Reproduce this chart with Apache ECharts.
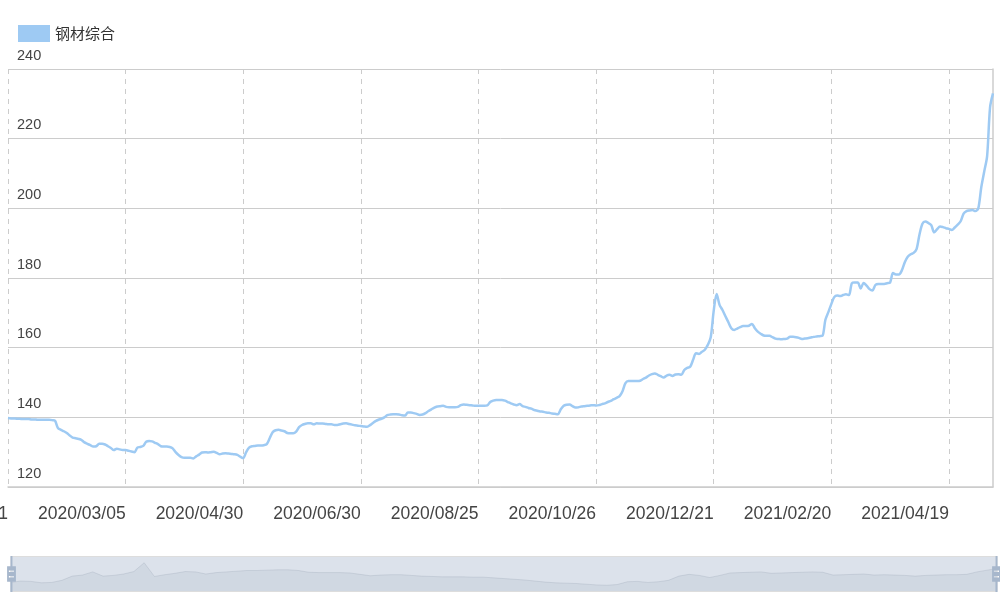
<!DOCTYPE html>
<html>
<head>
<meta charset="utf-8">
<script src="https://cdn.jsdelivr.net/npm/echarts@6/dist/echarts.min.js"></script>
<style>
html,body{margin:0;padding:0;background:#fff;}
#chart{width:1000px;height:602px;}
</style>
</head>
<body>
<div id="chart"></div>
<script>
// ---- data ----
const seriesName = '钢材综合';

const dates = [
'2019/12/31',
'2020/01/02','2020/01/03','2020/01/06','2020/01/07','2020/01/08','2020/01/09','2020/01/10','2020/01/13','2020/01/14','2020/01/15','2020/01/16','2020/01/17','2020/01/20','2020/01/21','2020/01/22','2020/01/23',
'2020/02/03','2020/02/04','2020/02/05','2020/02/06','2020/02/07','2020/02/10','2020/02/11','2020/02/12','2020/02/13','2020/02/14','2020/02/17','2020/02/18','2020/02/19','2020/02/20','2020/02/21','2020/02/24','2020/02/25','2020/02/26','2020/02/27','2020/02/28',
'2020/03/02','2020/03/03','2020/03/04','2020/03/05','2020/03/06','2020/03/09','2020/03/10','2020/03/11','2020/03/12','2020/03/13','2020/03/16','2020/03/17','2020/03/18','2020/03/19','2020/03/20','2020/03/23','2020/03/24','2020/03/25','2020/03/26','2020/03/27','2020/03/30','2020/03/31',
'2020/04/01','2020/04/02','2020/04/03','2020/04/07','2020/04/08','2020/04/09','2020/04/10','2020/04/13','2020/04/14','2020/04/15','2020/04/16','2020/04/17','2020/04/20','2020/04/21','2020/04/22','2020/04/23','2020/04/24','2020/04/26','2020/04/27','2020/04/28','2020/04/29','2020/04/30',
'2020/05/06','2020/05/07','2020/05/08','2020/05/09','2020/05/11','2020/05/12','2020/05/13','2020/05/14','2020/05/15','2020/05/18','2020/05/19','2020/05/20','2020/05/21','2020/05/22','2020/05/25','2020/05/26','2020/05/27','2020/05/28','2020/05/29',
'2020/06/01','2020/06/02','2020/06/03','2020/06/04','2020/06/05','2020/06/08','2020/06/09','2020/06/10','2020/06/11','2020/06/12','2020/06/15','2020/06/16','2020/06/17','2020/06/18','2020/06/19','2020/06/22','2020/06/23','2020/06/24','2020/06/28','2020/06/29','2020/06/30',
'2020/07/01','2020/07/02','2020/07/03','2020/07/06','2020/07/07','2020/07/08','2020/07/09','2020/07/10','2020/07/13','2020/07/14','2020/07/15','2020/07/16','2020/07/17','2020/07/20','2020/07/21','2020/07/22','2020/07/23','2020/07/24','2020/07/27','2020/07/28','2020/07/29','2020/07/30','2020/07/31',
'2020/08/03','2020/08/04','2020/08/05','2020/08/06','2020/08/07','2020/08/10','2020/08/11','2020/08/12','2020/08/13','2020/08/14','2020/08/17','2020/08/18','2020/08/19','2020/08/20','2020/08/21','2020/08/24','2020/08/25','2020/08/26','2020/08/27','2020/08/28','2020/08/31',
'2020/09/01','2020/09/02','2020/09/03','2020/09/04','2020/09/07','2020/09/08','2020/09/09','2020/09/10','2020/09/11','2020/09/14','2020/09/15','2020/09/16','2020/09/17','2020/09/18','2020/09/21','2020/09/22','2020/09/23','2020/09/24','2020/09/25','2020/09/27','2020/09/28','2020/09/29','2020/09/30',
'2020/10/09','2020/10/10','2020/10/12','2020/10/13','2020/10/14','2020/10/15','2020/10/16','2020/10/19','2020/10/20','2020/10/21','2020/10/22','2020/10/23','2020/10/26','2020/10/27','2020/10/28','2020/10/29','2020/10/30',
'2020/11/02','2020/11/03','2020/11/04','2020/11/05','2020/11/06','2020/11/09','2020/11/10','2020/11/11','2020/11/12','2020/11/13','2020/11/16','2020/11/17','2020/11/18','2020/11/19','2020/11/20','2020/11/23','2020/11/24','2020/11/25','2020/11/26','2020/11/27','2020/11/30',
'2020/12/01','2020/12/02','2020/12/03','2020/12/04','2020/12/07','2020/12/08','2020/12/09','2020/12/10','2020/12/11','2020/12/14','2020/12/15','2020/12/16','2020/12/17','2020/12/18','2020/12/21','2020/12/22','2020/12/23','2020/12/24','2020/12/25','2020/12/28','2020/12/29','2020/12/30','2020/12/31',
'2021/01/04','2021/01/05','2021/01/06','2021/01/07','2021/01/08','2021/01/11','2021/01/12','2021/01/13','2021/01/14','2021/01/15','2021/01/18','2021/01/19','2021/01/20','2021/01/21','2021/01/22','2021/01/25','2021/01/26','2021/01/27','2021/01/28','2021/01/29',
'2021/02/01','2021/02/02','2021/02/03','2021/02/04','2021/02/05','2021/02/07','2021/02/08','2021/02/09','2021/02/10','2021/02/18','2021/02/19','2021/02/20','2021/02/22','2021/02/23','2021/02/24','2021/02/25','2021/02/26',
'2021/03/01','2021/03/02','2021/03/03','2021/03/04','2021/03/05','2021/03/08','2021/03/09','2021/03/10','2021/03/11','2021/03/12','2021/03/15','2021/03/16','2021/03/17','2021/03/18','2021/03/19','2021/03/22','2021/03/23','2021/03/24','2021/03/25','2021/03/26','2021/03/29','2021/03/30','2021/03/31',
'2021/04/01','2021/04/02','2021/04/06','2021/04/07','2021/04/08','2021/04/09','2021/04/12','2021/04/13','2021/04/14','2021/04/15','2021/04/16','2021/04/19','2021/04/20','2021/04/21','2021/04/22','2021/04/23','2021/04/25','2021/04/26','2021/04/27','2021/04/28','2021/04/29','2021/04/30',
'2021/05/06','2021/05/07','2021/05/08','2021/05/10','2021/05/11'
];

const steelIndex = [
139.8,139.7,139.7,139.6,139.6,139.5,139.5,139.5,139.4,139.4,139.3,139.3,139.3,139.3,139.3,139.2,139.0,
136.9,136.4,136.0,135.5,134.8,134.2,134.0,133.8,133.5,132.8,132.4,132.0,131.6,131.7,132.4,132.4,132.2,131.7,131.2,130.6,131.0,130.8,130.6,130.6,
130.4,130.2,130.0,131.3,131.5,131.8,133.0,133.2,133.1,132.7,132.3,131.7,131.6,131.6,131.5,131.1,130.0,129.2,128.6,128.4,
128.4,128.4,128.2,128.8,129.3,129.9,130.0,129.9,130.0,130.1,129.8,129.4,129.6,129.7,129.6,129.5,129.4,129.2,128.7,128.3,
130.0,131.3,131.7,131.8,131.9,131.9,132.0,132.3,134.0,135.7,136.3,136.4,136.2,136.0,135.5,135.4,135.4,135.9,137.2,137.8,
138.1,138.3,138.3,138.0,138.3,138.2,138.2,138.1,138.0,138.0,137.8,137.8,138.0,138.2,138.3,138.1,137.9,137.7,137.6,137.5,
137.4,137.3,137.7,138.3,138.9,139.3,139.6,140.0,140.6,140.8,140.9,140.9,140.8,140.6,140.5,141.4,141.4,141.2,141.0,140.7,
140.8,141.2,141.8,142.3,142.8,143.1,143.2,143.3,143.0,142.9,142.9,142.9,143.0,143.5,143.7,143.6,143.5,143.4,143.3,143.3,
143.3,143.3,143.4,144.4,144.8,145.0,145.0,145.0,144.8,144.4,144.0,143.7,143.5,143.8,143.2,143.0,142.7,142.5,142.1,141.9,
141.7,141.6,141.4,141.3,141.1,141.0,140.9,142.3,143.3,143.6,143.7,143.2,142.8,142.9,143.1,143.2,143.3,143.4,143.5,143.4,
143.5,143.8,144.0,144.4,144.7,145.2,145.6,146.1,147.5,149.8,150.4,150.4,150.4,150.4,150.5,151.0,151.4,152.0,152.4,152.6,
152.2,151.8,151.4,152.0,152.2,151.9,152.3,152.4,152.2,153.6,154.2,154.5,156.5,158.4,158.2,158.8,159.4,160.8,163.0,170.5,
175.4,172.3,170.8,169.0,167.3,165.6,165.1,165.5,165.9,166.2,166.2,166.3,166.8,165.6,164.6,164.0,163.5,163.4,163.4,163.0,
162.6,162.5,162.4,162.5,162.6,163.1,163.1,163.0,162.8,162.5,162.6,162.7,162.9,163.1,163.2,163.3,163.4,168.0,170.2,172.5,
174.5,175.0,174.8,175.1,175.3,175.1,178.5,178.7,178.7,177.0,178.6,177.8,176.8,176.4,178.0,178.3,178.3,178.3,178.5,178.7,
181.4,181.0,181.0,182.2,184.5,186.1,186.8,187.2,188.3,192.5,195.6,196.2,195.8,195.2,193.1,194.0,194.8,194.6,194.3,194.1,
193.8,194.5,195.3,196.3,198.5,199.2,199.4,199.5,199.2,200.0,206.0,210.5,215.0,229.0,233.0
];

// profile shown in the slider's data shadow of the reference
const sliderShadow = [
30,34,33,29,30,36,48,51,60,48,50,54,61,86,47,52,56,61,60,54,
58,60,62,64,64,65,66,66,64,59,58,58,58,57,53,49,51,52,52,50,
48,47,46,46,46,45,45,43,41,39,37,34,31,29,28,27,25,23,22,24,
32,33,30,32,36,48,53,50,44,50,57,58,59,60,56,57,58,59,60,59,
51,52,53,54,51,52,51,50,48,50,51,52,52,53,60,65,70
];

const yMin = 120, yMax = 240, yStep = 20;
const labelEvery = 40;

// ---- chart ----
const chart = echarts.init(document.getElementById('chart'), null, {renderer: 'canvas'});
const fontLatin = '"Liberation Sans", "Noto Sans CJK SC", sans-serif';
const lineColor = '#9ecaf3';

const option = {
  animation: false,
  backgroundColor: '#fff',
  legend: {
    data: [seriesName],
    left: 13, top: 20,
    icon: 'rect',
    itemWidth: 32, itemHeight: 17,
    itemGap: 10,
    textStyle: {fontSize: 15, color: '#333', fontFamily: '"Noto Sans CJK SC", sans-serif'}
  },
  grid: {
    left: 8, right: 7, top: 69, bottom: 115,
    show: false,
    containLabel: false,
    outerBoundsMode: 'none'
  },
  xAxis: {
    type: 'category',
    data: dates,
    boundaryGap: false,
    axisLine: {show: true, lineStyle: {color: '#ccc', width: 1.5}},
    axisTick: {show: false},
    axisLabel: {
      interval: labelEvery - 1,
      align: 'right',
      margin: 18,
      fontSize: 17.5,
      color: '#444',
      fontFamily: fontLatin
    },
    splitLine: {
      show: true,
      interval: labelEvery - 1,
      lineStyle: {color: '#ccc', type: [5, 5], width: 1}
    }
  },
  yAxis: [{
    type: 'value',
    min: yMin, max: yMax, interval: yStep,
    axisLine: {show: false},
    axisTick: {show: false},
    axisLabel: {
      inside: true,
      margin: 9,
      verticalAlign: 'bottom',
      padding: [0, 0, 6, 0],
      fontSize: 14.5,
      color: '#444',
      fontFamily: fontLatin
    },
    splitLine: {show: true, lineStyle: {color: '#ccc', width: 1}}
  }, {
    type: 'value',
    position: 'right',
    scale: true,
    axisLine: {show: true, onZero: false, lineStyle: {color: '#ccc', width: 1.5}},
    axisTick: {show: false},
    axisLabel: {show: false},
    splitLine: {show: false}
  }],
  dataZoom: [{
    type: 'slider',
    xAxisIndex: 0,
    start: 0, end: 100,
    left: 8, right: 5, top: 556, height: 36,
    backgroundColor: 'rgba(47,69,84,0)',
    borderColor: '#ddd',
    fillerColor: 'rgba(167,183,204,0.4)',
    showDetail: false,
    showDataShadow: true,
    brushSelect: false,
    moveHandleSize: 0,
    moveHandleStyle: {opacity: 0},
    handleIcon: 'path://M8.2,13.6V3.9H6.3v9.7H3.1v14.9h3.3v9.7h1.8v-9.7h3.3V13.6H8.2z M9.7,24.4H4.8v-1.4h4.9V24.4z M9.7,19.1H4.8v-1.4h4.9V19.1z',
    handleSize: '100%',
    handleStyle: {color: '#a7b7cc', borderWidth: 0},
    emphasis: {handleStyle: {color: '#a7b7cc', borderWidth: 0}},
    dataBackground: {
      lineStyle: {color: '#2f4554', opacity: 0.3, width: 0.5},
      areaStyle: {color: 'rgba(47,69,84,0.3)', opacity: 0.3}
    },
    selectedDataBackground: {
      lineStyle: {color: '#2f4554', opacity: 0.3, width: 0.5},
      areaStyle: {color: 'rgba(47,69,84,0.3)', opacity: 0.3}
    }
  }],
  series: [{
    name: 'sliderShadow',
    type: 'line',
    xAxisIndex: 0,
    yAxisIndex: 1,
    data: sliderShadow,
    symbol: 'none',
    silent: true,
    lineStyle: {opacity: 0, width: 0},
    itemStyle: {opacity: 0},
    z: 0
  }, {
    name: seriesName,
    type: 'line',
    xAxisIndex: 0,
    yAxisIndex: 0,
    data: steelIndex,
    symbol: 'none',
    smooth: 0.3,
    itemStyle: {color: lineColor},
    lineStyle: {color: lineColor, width: 2.5},
    z: 3
  }]
};
chart.setOption(option);
</script>
</body>
</html>
